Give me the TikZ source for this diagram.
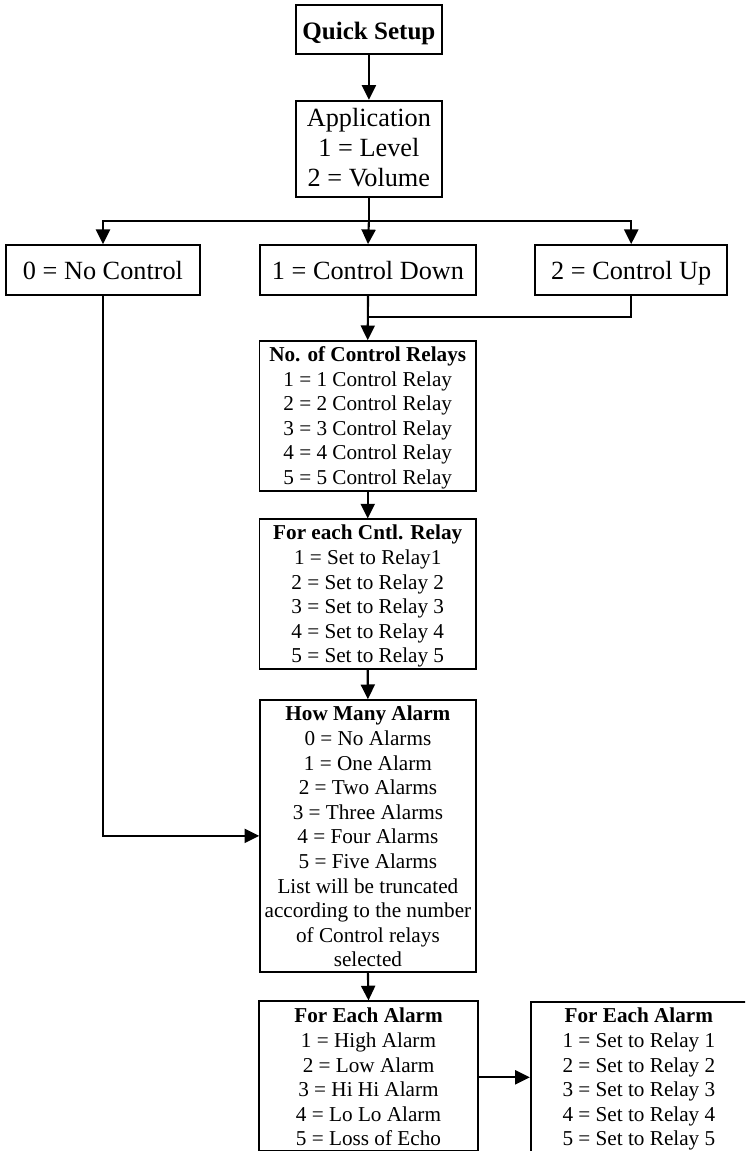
\documentclass[tikz,border=0pt]{standalone}
\usepackage{fontspec}
\setmainfont{Liberation Serif}
\usetikzlibrary{arrows.meta}
\newcommand{\mytop}{\rule{0pt}{14pt}}
\newcommand{\mybot}{\rule[-2pt]{0pt}{2pt}}
\newcommand{\bigtop}{\rule{0pt}{15pt}}
\newcommand{\bigbot}{\rule[-3.5pt]{0pt}{3.5pt}}
\begin{document}
\begin{tikzpicture}[x=0.75pt,y=-0.75pt,
  box/.style={draw,line width=1.3pt,inner sep=0pt,align=center,anchor=center},
  big/.style={font=\fontsize{19.7}{22.5}\selectfont},
  one/.style={text height=14pt,text depth=0pt},
  small/.style={font=\fontsize{15.9}{18.45}\selectfont},
  arr/.style={line width=1.6pt,-{Triangle[length=11pt,width=10.5pt]}},
  ln/.style={line width=1.6pt}]
\useasboundingbox (0,0) rectangle (745,1151);
\clip (0,0) rectangle (745,1151);
\fill[white] (0,0) rectangle (745,1151);

\node[box,font=\fontsize{18.8}{22.5}\selectfont,text height=15pt,text depth=0pt,minimum width=109.7pt,minimum height=36.75pt] (quick) at (368.9,29.2) {\textbf{Quick Setup}};
\node[box,big,minimum width=109.7pt,minimum height=72.45pt] (app) at (368.9,149) {\bigtop Application\\1 = Level\\2 = Volume\bigbot};
\node[box,big,one,minimum width=145.5pt,minimum height=37.3pt] (nocontrol) at (103,269.9) {0 = No Control};
\node[box,big,one,minimum width=162pt,minimum height=37.3pt] (down) at (368,269.9) {1 = Control Down};
\node[box,big,one,minimum width=144.2pt,minimum height=37.3pt] (up) at (631.2,269.9) {2 = Control Up};
\node[box,small,minimum width=162.5pt,minimum height=112.3pt] (relays) at (367.7,415.9)
  {\mytop\textbf{No. of Control Relays}\\1 = 1 Control Relay\\2 = 2 Control Relay\\3 = 3 Control Relay\\4 = 4 Control Relay\\5 = 5 Control Relay\mybot};
\node[box,small,minimum width=162.5pt,minimum height=112.5pt] (cntl) at (367.7,594.3)
  {\mytop\textbf{For each Cntl. Relay}\\1 = Set to Relay1\\2 = Set to Relay 2\\3 = Set to Relay 3\\4 = Set to Relay 4\\5 = Set to Relay 5\mybot};
\node[box,small,minimum width=161.8pt,minimum height=203.8pt] (howmany) at (367.9,835.9)
  {\mytop\textbf{How Many Alarm}\\0 = No Alarms\\1 = One Alarm\\2 = Two Alarms\\3 = Three Alarms\\4 = Four Alarms\\5 = Five Alarms\\List will be truncated\\according to the number\\of Control relays\\selected\mybot};
\node[box,small,minimum width=163.8pt,minimum height=112.5pt] (eachalarm) at (368.5,1076.3)
  {\mytop\textbf{For Each Alarm}\\1 = High Alarm\\2 = Low Alarm\\3 = Hi Hi Alarm\\4 = Lo Lo Alarm\\5 = Loss of Echo\mybot};
\node[box,small,minimum width=162.2pt,minimum height=112.5pt] (setrelay) at (638.85,1077.3)
  {\mytop\textbf{For Each Alarm}\\1 = Set to Relay 1\\2 = Set to Relay 2\\3 = Set to Relay 3\\4 = Set to Relay 4\\5 = Set to Relay 5\mybot};

\coordinate (j) at (368.9,221);
\coordinate (m) at (368,316.7);

\draw[arr] (quick.south) -- (app.north);
\draw[ln] (app.south) -- (j);
\draw[arr] (j) -| (nocontrol.north);
\draw[arr] (j) -| (up.north);
\draw[arr] (j) -- (down.north);
\draw[arr] (down.south) -- (relays.north);
\draw[ln] (up.south) |- (m);
\draw[arr] (relays.south) -- (cntl.north);
\draw[arr] (cntl.south) -- (howmany.north);
\draw[arr] (nocontrol.south) |- (howmany.west);
\draw[arr] (howmany.south) -- (eachalarm.north);
\draw[arr] (eachalarm.east |- setrelay.west) -- (setrelay.west);
\end{tikzpicture}
\end{document}
